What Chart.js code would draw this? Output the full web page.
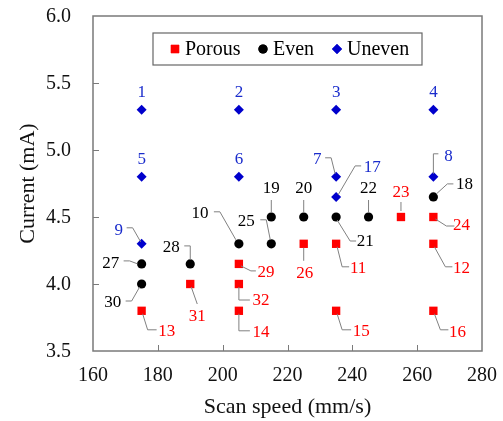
<!DOCTYPE html>
<html>
<head>
<meta charset="utf-8">
<script src="https://cdn.jsdelivr.net/npm/chart.js@4"></script>
<style>
  html, body { margin: 0; padding: 0; background: #fff; }
  #wrap { width: 503px; height: 421px; }
</style>
</head>
<body>
<div id="wrap"><canvas id="chart" width="503" height="421"></canvas></div>
<script>
// ---------- data ----------
const xTicks = [160, 180, 200, 220, 240, 260, 280];
const yTicks = [3.5, 4.0, 4.5, 5.0, 5.5, 6.0];
const xTitle = "Scan speed (mm/s)";
const yTitle = "Current (mA)";

const porousSpeed = [175, 190, 205, 205, 205, 225, 235, 265, 235, 265, 255, 265];
const porousCurrent = [3.8, 4.0, 4.15, 4.0, 3.8, 4.3, 4.3, 4.3, 3.8, 3.8, 4.5, 4.5];
const porousIds = [13, 31, 29, 32, 14, 26, 11, 12, 15, 16, 23, 24];

const evenSpeed = [175, 175, 190, 205, 215, 215, 225, 235, 245, 265];
const evenCurrent = [4.15, 4.0, 4.15, 4.3, 4.5, 4.3, 4.5, 4.5, 4.5, 4.65];
const evenIds = [27, 30, 28, 10, 19, 25, 20, 21, 22, 18];

const unevenSpeed = [175, 205, 235, 265, 175, 205, 235, 265, 175, 235];
const unevenCurrent = [5.3, 5.3, 5.3, 5.3, 4.8, 4.8, 4.8, 4.8, 4.3, 4.65];
const unevenIds = [1, 2, 3, 4, 5, 6, 7, 8, 9, 17];

// label placement: [dx, dy] of label centre from the point, then leader line points
const labelPlace = {
  1: [0, -18, []], 2: [0, -18, []], 3: [0, -18, []], 4: [0, -18, []],
  5: [0, -18, []], 6: [0, -18, []],
  7: [-19, -18, [[-11, -19], [-5, -19], [-1, -3]]],
  8: [15, -21, [[0, -3], [0, -23], [5, -23]]],
  9: [-23, -14, [[-15, -16], [-9, -16], [-1, -2]]],
  17: [36, -30, [[2, -2], [19, -31], [25, -31]]],
  18: [31, -13, [[3, -3], [14, -13], [20, -13]]],
  19: [0, -29, [[0, -4], [0, -17]]],
  20: [0, -29, [[0, -4], [0, -17]]],
  22: [0, -29, [[0, -4], [0, -17]]],
  21: [29, 24, [[1, 3], [14, 24], [20, 24]]],
  10: [-39, -31, [[-25, -32], [-19, -32], [-3, -4]]],
  25: [-25, -23, [[-11, -24], [-5, -24], [-1, -4]]],
  27: [-31, -1, [[-18, -3], [-12, -3], [-4, 0]]],
  30: [-29, 18, [[-16, 17], [-10, 17], [-2, 3]]],
  28: [-19, -17, [[-6, -18], [0, -18], [0, -4]]],
  13: [25, 20, [[1, 3], [6, 19], [15, 19]]],
  31: [7, 32, [[1, 3], [7, 20]]],
  29: [27, 8, [[2, 2], [12, 7], [17, 7]]],
  32: [22, 16, [[0, 3], [0, 16], [11, 16]]],
  14: [22, 21, [[0, 3], [0, 20], [11, 20]]],
  26: [1, 29, [[0, 4], [0, 17]]],
  11: [22, 24, [[1, 3], [6, 23], [13, 23]]],
  12: [28, 24, [[1, 3], [12, 23], [19, 23]]],
  15: [25, 20, [[1, 3], [6, 19], [15, 19]]],
  16: [24, 21, [[1, 3], [7, 19], [15, 19]]],
  23: [0, -25, [[0, -6], [0, -15]]],
  24: [28, 8, [[2, 2], [13, 9], [21, 9]]],
};

const RED = "#ff0000";
const BLACK = "#000000";
const BLUE = "#0000cc";
const FRAME = "#7a7a7a";
const FONT = "'Liberation Serif', 'DejaVu Serif', serif";

function toPoints(xs, ys) {
  return xs.map((x, i) => ({ x: x, y: ys[i] }));
}

// ---------- plugin: frame, ticks, titles, point labels, legend ----------
const decorPlugin = {
  id: "decor",
  afterDatasetsDraw(chart) {
    const ctx = chart.ctx;
    const area = chart.chartArea;
    const xs = chart.scales.x;
    const ys = chart.scales.y;

    ctx.save();
    // frame
    ctx.strokeStyle = FRAME;
    ctx.lineWidth = 1.5;
    ctx.strokeRect(area.left, area.top, area.right - area.left, area.bottom - area.top);

    // inward ticks
    ctx.beginPath();
    xTicks.slice(1, -1).forEach((v) => {
      const px = Math.round(xs.getPixelForValue(v)) + 0.5;
      ctx.moveTo(px, area.bottom);
      ctx.lineTo(px, area.bottom - 6);
    });
    yTicks.slice(1, -1).forEach((v) => {
      const py = Math.round(ys.getPixelForValue(v)) + 0.5;
      ctx.moveTo(area.left, py);
      ctx.lineTo(area.left + 6, py);
    });
    ctx.lineWidth = 1;
    ctx.stroke();

    // tick labels
    ctx.fillStyle = "#111";
    ctx.font = "20px " + FONT;
    ctx.textBaseline = "middle";
    ctx.textAlign = "center";
    xTicks.forEach((v) => {
      ctx.fillText(String(v), xs.getPixelForValue(v), area.bottom + 25);
    });
    ctx.textAlign = "right";
    yTicks.forEach((v) => {
      ctx.fillText(v.toFixed(1), area.left - 22, ys.getPixelForValue(v) + 1);
    });

    // axis titles
    ctx.font = "22px " + FONT;
    ctx.textAlign = "center";
    ctx.textBaseline = "alphabetic";
    ctx.fillText(xTitle, (area.left + area.right) / 2, area.bottom + 62);
    ctx.save();
    ctx.translate(34, (area.top + area.bottom) / 2);
    ctx.rotate(-Math.PI / 2);
    ctx.fillText(yTitle, 0, 0);
    ctx.restore();

    // point labels with leader lines
    const groups = [
      { xs: porousSpeed, ys: porousCurrent, ids: porousIds, color: RED },
      { xs: evenSpeed, ys: evenCurrent, ids: evenIds, color: BLACK },
      { xs: unevenSpeed, ys: unevenCurrent, ids: unevenIds, color: "#1a2ccc" },
    ];
    ctx.font = "17px " + FONT;
    ctx.textAlign = "center";
    ctx.textBaseline = "middle";
    groups.forEach((g) => {
      g.ids.forEach((id, i) => {
        const px = xs.getPixelForValue(g.xs[i]);
        const py = ys.getPixelForValue(g.ys[i]);
        const place = labelPlace[id];
        const path = place[2];
        if (path.length) {
          ctx.beginPath();
          ctx.strokeStyle = "#808080";
          ctx.lineWidth = 1;
          path.forEach((p, k) => {
            if (k === 0) ctx.moveTo(px + p[0], py + p[1]);
            else ctx.lineTo(px + p[0], py + p[1]);
          });
          ctx.stroke();
        }
        ctx.fillStyle = g.color;
        ctx.fillText(String(id), px + place[0], py + place[1] + 1);
      });
    });

    // legend box
    const lx = 153, ly = 33, lw = 269, lh = 32;
    ctx.strokeStyle = "#666";
    ctx.lineWidth = 1.2;
    ctx.strokeRect(lx, ly, lw, lh);
    ctx.font = "20px " + FONT;
    ctx.textAlign = "left";
    const cy = ly + lh / 2;
    const items = [
      { label: "Porous", style: "rect", color: RED, r: 5.9, mx: 175 },
      { label: "Even", style: "circle", color: BLACK, r: 4.6, mx: 263 },
      { label: "Uneven", style: "rectRot", color: BLUE, r: 5, mx: 337 },
    ];
    items.forEach((it) => {
      ctx.fillStyle = it.color;
      ctx.strokeStyle = it.color;
      Chart.helpers.drawPoint(ctx, { pointStyle: it.style, radius: it.r, rotation: 0, borderWidth: 0 }, it.mx, cy);
      ctx.fill();
      ctx.fillStyle = BLACK;
      ctx.fillText(it.label, it.mx + 10, cy + 1);
    });
    ctx.restore();
  },
};

// ---------- chart ----------
const ctx = document.getElementById("chart").getContext("2d");
const chart = new Chart(ctx, {
  type: "scatter",
  data: {
    datasets: [
      {
        label: "Porous",
        data: toPoints(porousSpeed, porousCurrent),
        pointStyle: "rect",
        pointRadius: 5.9,
        backgroundColor: RED,
        borderColor: RED,
        borderWidth: 0,
      },
      {
        label: "Even",
        data: toPoints(evenSpeed, evenCurrent),
        pointStyle: "circle",
        pointRadius: 4.6,
        backgroundColor: BLACK,
        borderColor: BLACK,
        borderWidth: 0,
      },
      {
        label: "Uneven",
        data: toPoints(unevenSpeed, unevenCurrent),
        pointStyle: "rectRot",
        pointRadius: 5,
        backgroundColor: BLUE,
        borderColor: BLUE,
        borderWidth: 0,
      },
    ],
  },
  options: {
    responsive: false,
    animation: false,
    events: [],
    layout: { padding: { top: 16, right: 21, left: 0, bottom: 0 } },
    plugins: {
      legend: { display: false },
      tooltip: { enabled: false },
    },
    scales: {
      x: {
        type: "linear",
        min: 160,
        max: 280,
        afterFit: (scale) => { scale.height = 70; },
        grid: { display: false, drawTicks: false },
        border: { display: false },
        ticks: { display: false },
      },
      y: {
        type: "linear",
        min: 3.5,
        max: 6.0,
        afterFit: (scale) => { scale.width = 93; },
        grid: { display: false, drawTicks: false },
        border: { display: false },
        ticks: { display: false },
      },
    },
  },
  plugins: [decorPlugin],
});
</script>
</body>
</html>
